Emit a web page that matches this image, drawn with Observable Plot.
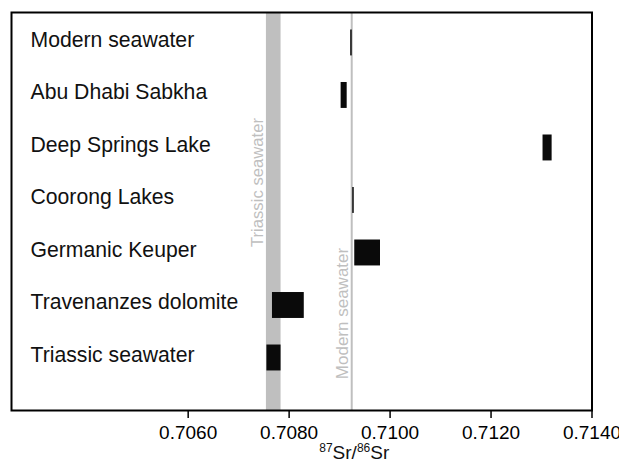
<!DOCTYPE html>
<html><head><meta charset="utf-8">
<script src="https://cdn.jsdelivr.net/npm/d3@7"></script>
<script src="https://cdn.jsdelivr.net/npm/@observablehq/plot@0.6"></script>
<style>body{margin:0;background:#fff} #chart{position:absolute;left:0;top:0}</style>
</head><body><div id="chart"></div>
<script>
const categories = ["Modern seawater","Abu Dhabi Sabkha","Deep Springs Lake","Coorong Lakes","Germanic Keuper","Travenanzes dolomite","Triassic seawater"];
const lowValues  = [0.70922, 0.70903, 0.71303, 0.70926, 0.70930, 0.70767, 0.70756];
const highValues = [0.70925, 0.70915, 0.71321, 0.70929, 0.70981, 0.70830, 0.70784];
const triassicBand = [0.70755, 0.70784];
const modernSeawater = 0.70924;
const xTicks = [0.7060, 0.7080, 0.7100, 0.7120, 0.7140];
const xDomain = [0.7025, 0.7140];

const rows = categories.map((name, i) => ({name, i, lo: lowValues[i], hi: highValues[i]}));
const font = "'Liberation Sans', Arial, Helvetica, sans-serif";
const gray = "#bfbfbf";

const plot = Plot.plot({
  width: 619, height: 470,
  marginLeft: 11, marginRight: 27.5, marginTop: 12, marginBottom: 60,
  style: {fontFamily: font, background: "#fff", color: "#000", overflow: "visible"},
  x: {domain: xDomain},
  y: {domain: [-0.58, 7.0], reverse: true, axis: null},
  marks: [
    Plot.rect([triassicBand], {x1: d => d[0], x2: d => d[1], fill: gray}),
    Plot.ruleX([modernSeawater], {stroke: gray, strokeWidth: 2}),
    Plot.text(["Triassic seawater"], {x: () => triassicBand[0], text: d => d, rotate: -90, frameAnchor: "middle",
      lineAnchor: "bottom", textAnchor: "middle", dx: -3, dy: -29, fontSize: 16.7, fill: gray}),
    Plot.text(["Modern seawater"], {x: () => modernSeawater, text: d => d, rotate: -90, frameAnchor: "middle",
      lineAnchor: "bottom", textAnchor: "middle", dx: -3.5, dy: 102, fontSize: 17, fill: gray}),
    Plot.rect(rows, {x1: "lo", x2: "hi", y1: d => d.i - 0.247, y2: d => d.i + 0.247, fill: "#0a0a0a"}),
    Plot.text(rows, {y: "i", text: "name", frameAnchor: "left", dx: 19, dy: -3, textAnchor: "start", fontSize: 21.2, fill: "#111"}),
    Plot.axisX({ticks: xTicks, tickFormat: d3.format(".4f"), tickSize: 8, tickPadding: 7, fontSize: 19, label: null, strokeWidth: 1.5}),
    Plot.frame({stroke: "#000", strokeWidth: 2})
  ]
});
document.getElementById("chart").appendChild(plot);

// axis label with superscripts
const svg = d3.select(plot);
const xr = plot.scale("x").range;
const lbl = svg.append("text")
  .attr("x", (xr[0] + xr[1]) / 2 + 53)
  .attr("y", 459)
  .attr("text-anchor", "middle")
  .attr("font-family", font)
  .attr("font-size", 19)
  .attr("fill", "#111");
lbl.append("tspan").attr("font-size", 12).attr("dy", -7).text("87");
lbl.append("tspan").attr("dy", 7).text("Sr/");
lbl.append("tspan").attr("font-size", 12).attr("dy", -7).text("86");
lbl.append("tspan").attr("dy", 7).text("Sr");
</script>
</body></html>
